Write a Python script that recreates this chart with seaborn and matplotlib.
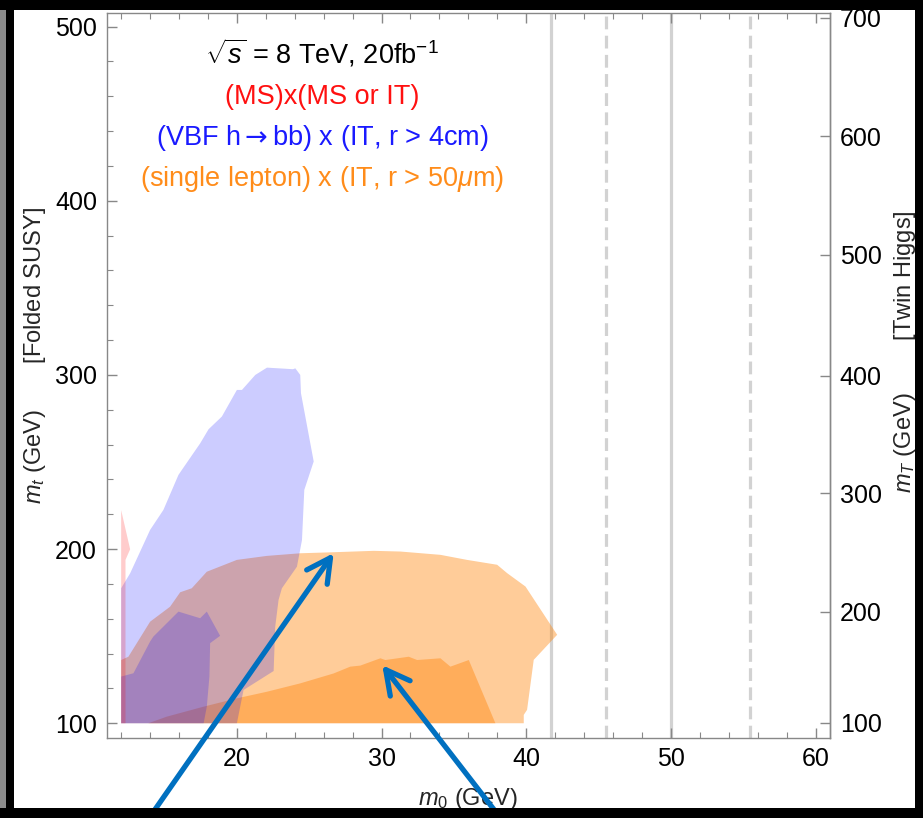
import numpy as np
import pandas as pd
import matplotlib
matplotlib.use("Agg")
import matplotlib.pyplot as plt
import seaborn as sns
from matplotlib.ticker import MultipleLocator, FixedLocator, NullLocator
from matplotlib.patches import Rectangle

# ---------------- data ----------------
# single lepton x (IT, r > 50um): outer contour
orange_outer_x = [12.0, 12.0, 12.5, 14.0, 15.38, 16.08, 16.88, 17.92, 20.0, 22.08, 24.38,
                  26.69, 29.46, 31.3, 34.07, 35.91, 37.99, 38.68, 39.95, 42.14, 40.52,
                  40.06, 39.83, 39.83]
orange_outer_y = [100, 136.3, 138.2, 158.3, 166.9, 175.2, 177.5, 187.0, 193.8, 196.1, 197.6,
                  198.2, 199.0, 198.6, 196.7, 193.8, 191.0, 186.2, 178.5, 150.8, 136.4,
                  107.7, 104.8, 100]
# single lepton: inner contour
orange_inner_x = [13.88, 15.16, 17.69, 20.0, 22.08, 24.38, 26.69, 27.84, 28.53, 29.92, 30.26,
                  31.88, 32.46, 34.07, 34.76, 36.03, 37.87]
orange_inner_y = [100, 103.8, 109.5, 114.3, 118.1, 122.9, 128.6, 132.5, 133.1, 137.3, 136.3,
                  138.2, 136.3, 137.3, 132.5, 136.3, 100]
# VBF h->bb x (IT, r > 4cm): outer contour
blue_outer_x = [12.0, 12.0, 12.62, 14.0, 14.92, 15.96, 16.19, 17.46, 18.04, 18.96, 20.0, 20.35,
                21.27, 22.08, 23.88, 24.04, 24.38, 24.43, 25.31, 24.66, 24.5, 24.15, 23.11,
                22.88, 22.65, 22.54, 20.46, 20.0]
blue_outer_y = [100, 177.5, 186.1, 211, 222.5, 242.6, 245.4, 260.7, 268.8, 276.1, 291.4, 291.4,
                300, 304.2, 303.3, 303.8, 300, 289.5, 250.3, 234, 205.2, 189.9, 177.5,
                170.8, 155.5, 130, 119.1, 100]
# VBF: inner contour
blue_inner_x = [12.0, 12.0, 12.85, 14.0, 14.23, 15.96, 17.46, 17.92, 18.84, 18.15, 18.1, 17.92, 17.7]
blue_inner_y = [100, 126.8, 128.7, 146.9, 149.8, 164.1, 160.3, 164.1, 150.2, 146.0, 126.8, 109.5, 100]
# (MS)x(MS or IT)
red_x = [12.0, 12.0, 12.62, 12.3, 12.3]
red_y = [100, 222.4, 199.9, 193.8, 100]

# reference vertical lines (m0)
vline_solid = [41.7, 50.0]
vline_dashed = [45.5, 55.5]

# axis ticks
x_major = [20, 30, 40, 50, 60]
y_major = [100, 200, 300, 400, 500]
# right axis: m_T tick values and the m_t value they sit at
mT_ticks = [100, 200, 300, 400, 500, 600, 700]
mt_at = [100.3, 163.9, 232.2, 299.4, 368.9, 437.2, 505.0]

regions = pd.DataFrame({
    "name": ["single lepton outer", "single lepton inner", "VBF outer", "VBF inner", "MS"],
    "x": [orange_outer_x, orange_inner_x, blue_outer_x, blue_inner_x, red_x],
    "y": [orange_outer_y, orange_inner_y, blue_outer_y, blue_inner_y, red_y],
    "color": ["#FF8000", "#FF8000", "#0000FF", "#0000FF", "#FF0000"],
    "alpha": [0.4, 0.4, 0.2, 0.2, 0.2],
})

# ---------------- style ----------------
sns.set_theme(style="white")
plt.rcParams["font.family"] = ["Liberation Sans", "DejaVu Sans"]
plt.rcParams["mathtext.fontset"] = "custom"
plt.rcParams["mathtext.rm"] = "Liberation Sans"
plt.rcParams["mathtext.it"] = "Liberation Sans:italic"
plt.rcParams["mathtext.bf"] = "Liberation Sans:bold"
plt.rcParams["mathtext.sf"] = "DejaVu Sans"

W, H = 923, 818
fig = plt.figure(figsize=(W / 100, H / 100), dpi=100)
fig.patch.set_facecolor("white")
ax = fig.add_axes([106.7 / W, 1 - 737.7 / H, (830 - 106.7) / W, (737.7 - 12.7) / H])
ax.set_facecolor("white")

for xv in vline_solid:
    ax.axvline(xv, color="#d2d2d2", lw=2.3, zorder=0.5)
for xv in vline_dashed:
    ax.axvline(xv, color="#d2d2d2", lw=2.3, ls=(0, (4, 2)), zorder=0.5)

for _, r in regions.iterrows():
    ax.fill(r["x"], r["y"], color=r["color"], alpha=r["alpha"], lw=0, zorder=1)

ax.set_xlim(11, 61)
ax.set_ylim(91.7, 508)
ax.xaxis.set_major_locator(FixedLocator(x_major))
ax.xaxis.set_minor_locator(MultipleLocator(2))
ax.yaxis.set_major_locator(FixedLocator(y_major))
ax.yaxis.set_minor_locator(MultipleLocator(20))
ax.tick_params(which="both", direction="in", top=True, bottom=True, left=True, right=False,
               color="#888888", labelcolor="black", labelsize=18)
ax.tick_params(which="major", length=7, width=1, pad=7)
ax.tick_params(which="minor", length=4, width=0.8)
for s in ax.spines.values():
    s.set_color("#888888")
    s.set_linewidth(1)
    s.set_visible(True)


def _fwd(y):
    y = np.asarray(y, dtype=float)
    slo = (mT_ticks[1] - mT_ticks[0]) / (mt_at[1] - mt_at[0])
    shi = (mT_ticks[-1] - mT_ticks[-2]) / (mt_at[-1] - mt_at[-2])
    return np.where(y < mt_at[0], mT_ticks[0] + (y - mt_at[0]) * slo,
                    np.where(y > mt_at[-1], mT_ticks[-1] + (y - mt_at[-1]) * shi,
                             np.interp(y, mt_at, mT_ticks)))


def _inv(v):
    v = np.asarray(v, dtype=float)
    slo = (mt_at[1] - mt_at[0]) / (mT_ticks[1] - mT_ticks[0])
    shi = (mt_at[-1] - mt_at[-2]) / (mT_ticks[-1] - mT_ticks[-2])
    return np.where(v < mT_ticks[0], mt_at[0] + (v - mT_ticks[0]) * slo,
                    np.where(v > mT_ticks[-1], mt_at[-1] + (v - mT_ticks[-1]) * shi,
                             np.interp(v, mT_ticks, mt_at)))


sec = ax.secondary_yaxis("right", functions=(_fwd, _inv))
sec.yaxis.set_major_locator(FixedLocator(mT_ticks))
sec.yaxis.set_minor_locator(NullLocator())
sec.tick_params(which="major", direction="in", length=7, width=1, color="#888888",
                labelcolor="black", labelsize=18, pad=7)
for s in sec.spines.values():
    s.set_color("#888888")
    s.set_linewidth(1)

ax.set_xlabel("$m_0$ (GeV)", fontsize=17)
ax.xaxis.label.set_va("center")
ax.xaxis.set_label_coords(0.5, -0.0846)
ax.set_ylabel("$m_t$ (GeV)       [Folded SUSY]", fontsize=17)
ax.yaxis.label.set_va("center")
ax.yaxis.set_label_coords(-0.099, 0.527)
sec.set_ylabel("$m_T$ (GeV)        [Twin Higgs]", fontsize=17)
sec.yaxis.label.set_va("center")
sec.yaxis.set_label_coords(1.104, 0.532, transform=ax.transAxes)

tx = 0.2977
ax.text(tx, 0.944, r"$\sqrt{s}$ = 8 TeV, 20fb$^{-1}$", transform=ax.transAxes,
        ha="center", va="center", fontsize=19.5, color="black")
ax.text(tx, 0.8837, "(MS)x(MS or IT)", transform=ax.transAxes,
        ha="center", va="center", fontsize=19.5, color="#FF1010")
ax.text(tx, 0.8272, r"(VBF h$\mathsf{\rightarrow}$bb) x (IT, r > 4cm)", transform=ax.transAxes,
        ha="center", va="center", fontsize=19.5, color="#1a1aff")
ax.text(tx, 0.7713, r"(single lepton) x (IT, r > 50$\mu$m)", transform=ax.transAxes,
        ha="center", va="center", fontsize=19.5, color="#FF8C1A")

arrow_kw = dict(arrowstyle="->,head_length=0.85,head_width=0.45", color="#0070C0", lw=3.8,
                mutation_scale=20, shrinkA=0, shrinkB=0)
ax.annotate("", xy=(26.69, 197.7), xycoords="data", xytext=(143.4 / W, -0.01),
            textcoords="figure fraction", arrowprops=arrow_kw, annotation_clip=False, zorder=5)
ax.annotate("", xy=(30.05, 133.3), xycoords="data", xytext=(506.8 / W, -0.01),
            textcoords="figure fraction", arrowprops=arrow_kw, annotation_clip=False, zorder=5)

# dark border of the screenshot
frame = [((0, 0), 6, H, "#8c8c8c"), ((6, 0), 8, H, "black"), ((0, H - 10), W, 10, "black"),
         ((915, 0), 8, H, "black"), ((0, 0), W, 10, "black")]
for (x0, y0), w, h, c in frame:
    fig.add_artist(Rectangle((x0 / W, y0 / H), w / W, h / H, transform=fig.transFigure,
                             facecolor=c, edgecolor="none", zorder=100))

fig.savefig("out.png", dpi=100)
